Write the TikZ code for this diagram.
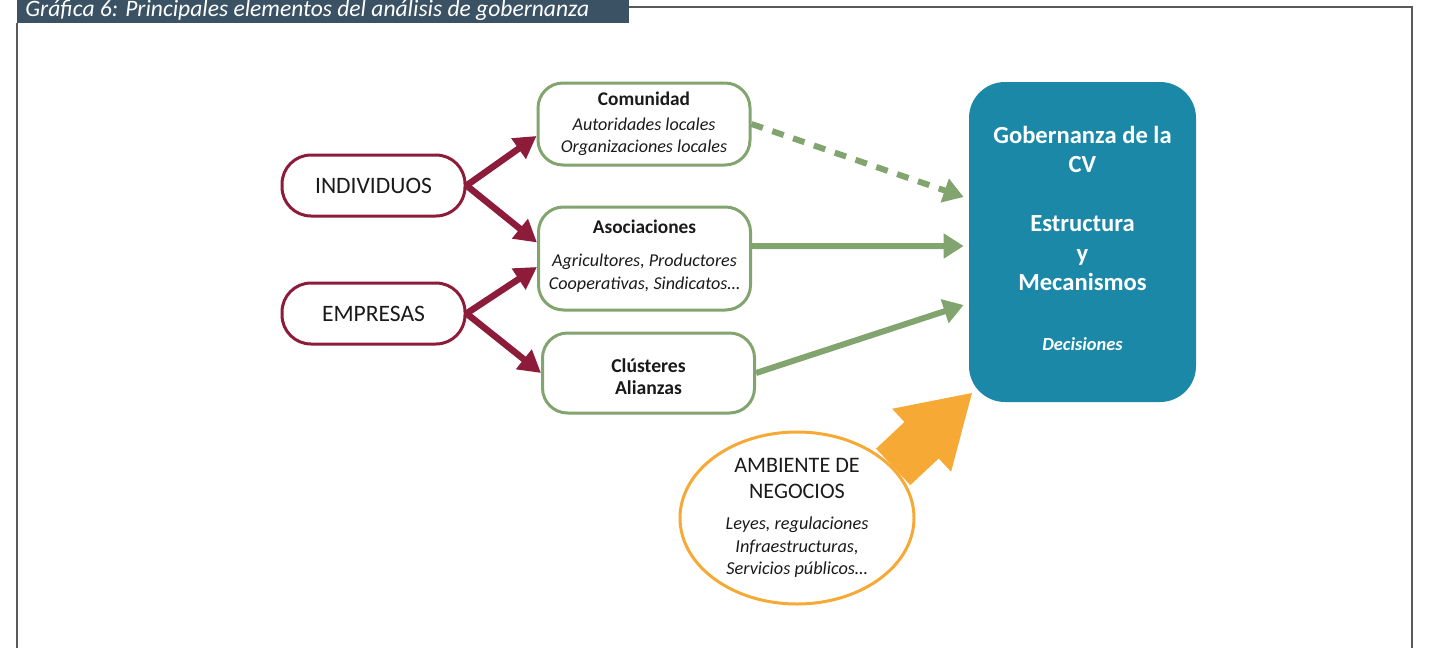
\documentclass[tikz,border=0pt]{standalone}
\usepackage{fontspec}
\setmainfont{Carlito}
\usetikzlibrary{arrows.meta,positioning,shapes.geometric,calc}
\definecolor{govred}{HTML}{8C1C3A}
\definecolor{govgreen}{HTML}{82A46F}
\definecolor{govblue}{HTML}{1B88A8}
\definecolor{govorange}{HTML}{F6A935}
\definecolor{headgray}{HTML}{3A5264}
\definecolor{framegray}{HTML}{5A5A5A}
\definecolor{textgray}{HTML}{1A1A1A}
\tikzset{%
	actor/.style      = {draw=govred, line width=0.06cm, rounded corners=0.58cm, minimum width=3.66cm, minimum height=1.22cm, text=textgray, font=\fontsize{13.4}{16}\selectfont},
	group/.style      = {draw=govgreen, line width=0.06cm, rounded corners=0.5cm, minimum width=4.24cm, align=center, text=textgray, font=\fontsize{10.3}{13}\selectfont},
	govbox/.style     = {fill=govblue, rounded corners=0.72cm, minimum width=4.54cm, minimum height=6.4cm, align=center, text=white, font=\bfseries\fontsize{14}{16.8}\selectfont},
	envbox/.style     = {draw=govorange, line width=0.06cm, ellipse, inner sep=0pt, minimum width=4.68cm, minimum height=3.44cm, align=center, text=textgray, font=\fontsize{12.6}{12.8}\selectfont},
	redarrow/.style   = {draw=govred, line width=0.13cm, -{Triangle[length=0.44cm,width=0.48cm]}},
	greenarrow/.style = {draw=govgreen, line width=0.12cm, -{Triangle[length=0.4cm,width=0.48cm]}},
	bigarrow/.style   = {draw=govorange, line width=1cm, -{Triangle[length=1.4cm,width=1.62cm]}},
}
\begin{document}
\begin{tikzpicture}
		\useasboundingbox (0,0) rectangle (28.58,-12.96);
		\fill[headgray] (0.34,0) rectangle (12.58,-0.46);
		\draw[framegray, line width=0.04cm] (12.58,-0.14) -- (28.24,-0.14) -- (28.24,-12.96);
		\draw[framegray, line width=0.04cm] (0.34,-0.46) -- (0.34,-12.96);
		\node[anchor=base west, inner sep=0pt, text=white, font=\itshape\fontsize{13.4}{15}\selectfont] (title) at (0.5,-0.32) {Gráfica 6: Principales elementos del análisis de gobernanza};
		
		\node[actor] (ind) at (7.47,-3.71) {INDIVIDUOS};
		\node[actor] (emp) at (7.47,-6.27) {EMPRESAS};
		
		\node[group, minimum height=1.64cm] (com) at (12.88,-2.48) {{\fontsize{11}{13}\selectfont\bfseries Comunidad}\\[1pt]\textit{Autoridades locales}\\\textit{Organizaciones locales}};
		\node[group, minimum height=2.06cm] (aso) at (12.89,-5.17) {{\fontsize{11}{13}\selectfont\bfseries Asociaciones}\\[5.8pt]\textit{Agricultores, Productores}\\\textit{Cooperativas, Sindicatos…}\rule[-4.5pt]{0pt}{0pt}};
		\node[group, minimum height=1.6cm] (clu) at (12.97,-7.46) {{\fontsize{11.2}{13}\selectfont\bfseries\rule{0pt}{12pt}Clústeres}\\{\fontsize{11.2}{13}\selectfont\bfseries Alianzas}};
		
		\node[govbox] (gob) at (21.65,-4.84) {Gobernanza de la\\CV\\[16.8pt]Estructura\\y\\Mecanismos\\[16.8pt]{\fontsize{10.5}{12}\selectfont\itshape Decisiones}\rule[-4.5pt]{0pt}{0pt}};
		\node[envbox] (amb) at (15.94,-10.36) {AMBIENTE DE\\[2pt]NEGOCIOS\\[4.8pt]{\fontsize{10.4}{12.8}\selectfont\itshape Leyes, regulaciones}\\{\fontsize{10.4}{12.8}\selectfont\itshape Infraestructuras,}\\{\fontsize{10.4}{12.8}\selectfont\itshape Servicios públicos…}};
		
		\draw[redarrow] (ind.east) -- ([yshift=-0.24cm]com.west);
		\draw[redarrow] (ind.east) -- ([yshift=0.32cm]aso.west);
		\draw[redarrow] (emp.east) -- ([yshift=-0.17cm]aso.west);
		\draw[redarrow] (emp.east) -- (clu.west);
		
		\draw[greenarrow, dash pattern=on 0.24cm off 0.2cm] (com.east) -- ([xshift=-0.1cm,yshift=0.9cm]gob.west);
		\draw[greenarrow] ([yshift=0.25cm]aso.east) -- ([xshift=-0.1cm,yshift=-0.08cm]gob.west);
		\draw[greenarrow] (clu.east) -- ([xshift=-0.1cm,yshift=-1.26cm]gob.west);
		
		\draw[bigarrow] (amb.28) -- ([xshift=0.08cm,yshift=0.2cm]gob.south west);
\end{tikzpicture}
\end{document}
